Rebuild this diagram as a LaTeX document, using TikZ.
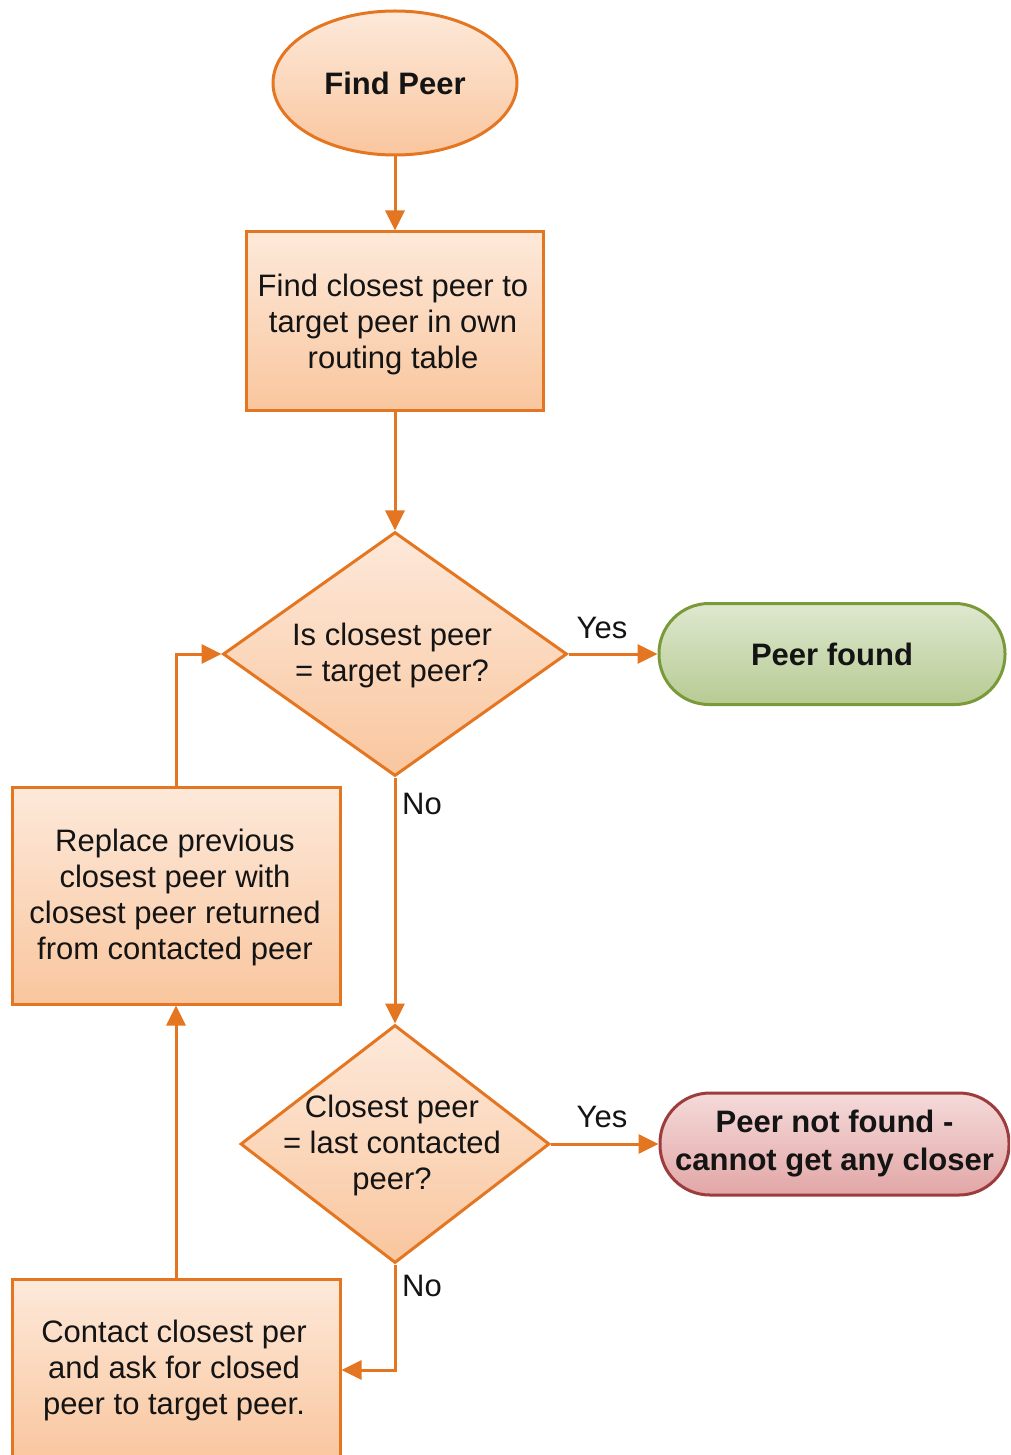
\documentclass[tikz,border=0pt]{standalone}
\usepackage{fontspec}
\setmainfont{Liberation Sans}
\usetikzlibrary{arrows.meta,shapes.geometric}

\definecolor{flowline}{RGB}{229,118,33}
\definecolor{orangetop}{RGB}{253,233,218}
\definecolor{orangebot}{RGB}{249,198,158}
\definecolor{greenline}{RGB}{122,154,58}
\definecolor{greentop}{RGB}{222,232,207}
\definecolor{greenbot}{RGB}{183,203,147}
\definecolor{redline}{RGB}{156,60,60}
\definecolor{redtop}{RGB}{245,218,218}
\definecolor{redbot}{RGB}{226,166,166}
\definecolor{ink}{RGB}{20,20,20}

\tikzset{
  basefont/.style={font=\fontsize{31}{36}\selectfont, text=ink, align=center},
  orangefill/.style={draw=flowline, line width=3pt, top color=orangetop, bottom color=orangebot},
  startshape/.style={orangefill, ellipse, minimum width=244pt, minimum height=144pt, inner sep=0pt, basefont, font=\fontsize{31}{36}\selectfont\bfseries},
  procbox/.style={orangefill, rectangle, inner sep=0pt, basefont},
  decision/.style={orangefill, diamond, inner sep=0pt},
  okterm/.style={draw=greenline, line width=3pt, top color=greentop, bottom color=greenbot, rectangle, rounded corners=50pt, minimum width=346pt, minimum height=101pt, inner sep=0pt, basefont, font=\fontsize{31}{38}\selectfont\bfseries},
  failterm/.style={draw=redline, line width=3pt, top color=redtop, bottom color=redbot, rectangle, rounded corners=50pt, minimum width=349pt, minimum height=102pt, inner sep=0pt, basefont, font=\fontsize{31}{38}\selectfont\bfseries},
  flow/.style={draw=flowline, line width=3pt, -{Triangle[length=20pt,width=19pt]}},
  edgelabel/.style={basefont, inner sep=0pt},
}

\begin{document}
\begin{tikzpicture}[x=1pt, y=-1pt]
  \useasboundingbox (0,0) rectangle (1010,1455);
  \clip (0,0) rectangle (1010,1455);
  \fill[white] (0,0) rectangle (1010,1455);

  % shapes
  \node[startshape] (start) at (395,83) {Find Peer};
  \node[procbox, minimum width=297pt, minimum height=178pt] (own) at (395,321) {};
  \node[basefont] (owntext) at (393,324) {Find closest peer to\\target peer in own\\routing table};
  \node[decision, minimum width=344pt, minimum height=244pt] (istarget) at (395,654) {};
  \node[basefont] (istargettext) at (392,655) {Is closest peer\\= target peer?};
  \node[okterm] (found) at (832,654) {Peer found};

  \node[procbox, minimum width=328pt, minimum height=217pt] (replace) at (176,895.5) {};
  \node[basefont] (replacetext) at (175,897)
    {Replace previous\\closest peer with\\closest peer returned\\from contacted peer};

  \node[decision, minimum width=309pt, minimum height=238pt] (islast) at (395,1144) {};
  \node[basefont] (islasttext) at (392,1145) {Closest peer\\= last contacted\\peer?};
  \node[failterm] (notfound) at (834.5,1144) {Peer not found -\\cannot get any closer};

  \node[procbox, minimum width=328pt, minimum height=182pt] (contact) at (176,1370) {};
  \node[basefont] (contacttext) at (174,1370)
    {Contact closest per\\and ask for closed\\peer to target peer.};

  % connectors
  \draw[flow] (start) -- (own);
  \draw[flow] (own) -- (istarget);
  \draw[flow] (istarget.east) -- (found.west);
  \draw[flow] (istarget.south) -- (islast.north);
  \draw[flow] (islast.east) -- (notfound.west);
  \draw[flow] (islast.south) |- (contact.east);
  \draw[flow] (contact.north) -- (replace.south);
  \draw[flow] (replace.north) |- (istarget.west);

  % branch labels
  \node[edgelabel] (yes1) at (602,628) {Yes};
  \node[edgelabel] (no1) at (422,804) {No};
  \node[edgelabel] (yes2) at (602,1117) {Yes};
  \node[edgelabel] (no2) at (422,1286) {No};
\end{tikzpicture}
\end{document}
